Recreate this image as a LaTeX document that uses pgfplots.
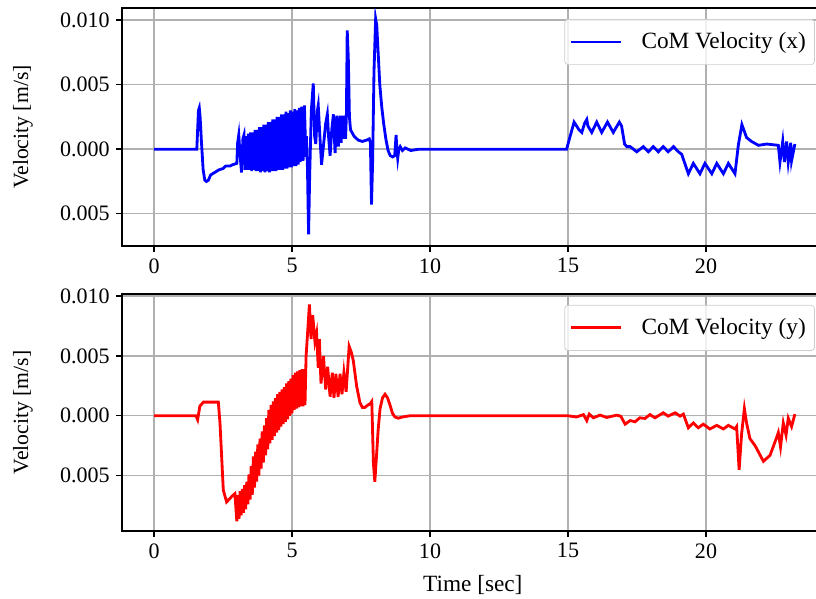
\documentclass[border=0pt]{standalone}
\usepackage{fontspec}
\setmainfont{Liberation Serif}
\usepackage{pgfplots}
\pgfplotsset{compat=1.18}
\newcommand{\ff}{\fontsize{12.5}{15}\selectfont}
\newcommand{\fy}{\fontsize{12.3}{15}\selectfont}
\newcommand{\fl}{\fontsize{13.2}{15.5}\selectfont}
\definecolor{gridgray}{HTML}{B0B0B0}
\pgfplotsset{
  myaxis/.style={
    scale only axis, width=397.8pt,
    xmin=-1.159, xmax=24.26,
    xtick={0,5,10,15,20}, xticklabels={0,5,10,15,20},
    ytick={-0.005,0,0.005,0.010}, yticklabels={0.005,0.000,0.005,0.010},
    scaled y ticks=false,
    tick align=outside, xtick pos=left, ytick pos=left,
    major tick length=3.5pt,
    tick style={black, line width=0.8pt},
    axis line style={line width=0.8pt},
    grid=major, major grid style={gridgray, line width=0.8pt},
    tick label style={font=\ff},
    every axis y label/.style={at={(axis description cs:-0.1411,0.5)}, rotate=90, anchor=center, font=\fy},
    every axis x label/.style={at={(axis description cs:0.5,-0.228)}, anchor=center, font=\fl},
    ylabel={Velocity [m/s]},
    legend style={at={(1,1)}, anchor=north east, xshift=-4.9pt, yshift=-6.2pt,
      draw=black!20, rounded corners=2pt, fill=white, fill opacity=0.8, text opacity=1,
      font=\fl, inner xsep=3pt, inner ysep=5.5pt, legend cell align=left,
      /tikz/every odd column/.append style={column sep=9pt}},
    legend image code/.code={\draw[#1] (0pt,0pt) -- (28pt,0pt);},
  }
}
\begin{document}
\begin{tikzpicture}
\begin{axis}[myaxis, at={(0,0)}, anchor=south west, height=134.9pt,
  ymin=-0.0075, ymax=0.01093]
\addplot[blue, line width=1.6pt] coordinates {
(0,0) (1.55,0) (1.58,0.0015) (1.61,0.0030) (1.64,0.0032) (1.67,0.0025) (1.72,0.0005) (1.78,-0.0016) (1.84,-0.0024) (1.90,-0.0025) (1.97,-0.0024) (2.05,-0.0020) (2.2,-0.0018) (2.35,-0.0016) (2.5,-0.0015) (2.6,-0.0013) (2.75,-0.0013) (2.85,-0.0012) (3.0,-0.0011)
(3.03,0.0005) (3.07,0.0011) (3.12,-0.0005) (3.17,-0.0018) (3.22,0.0008) (3.26,0.0011) (3.30,-0.0016)
(3.34,0.0010) (3.38,-0.0016) (3.42,0.0012) (3.46,-0.0016) (3.50,0.0013) (3.54,-0.0017) (3.58,0.0013) (3.62,-0.0016) (3.66,0.0015) (3.70,-0.0017) (3.74,0.0015) (3.78,-0.0017) (3.82,0.0017) (3.86,-0.0018) (3.90,0.0017) (3.94,-0.0017) (3.98,0.0019) (4.02,-0.0018) (4.06,0.0019) (4.10,-0.0017) (4.14,0.0021) (4.18,-0.0018) (4.22,0.0021) (4.26,-0.0017) (4.30,0.0023) (4.34,-0.0017) (4.38,0.0023) (4.42,-0.0017) (4.46,0.0025) (4.50,-0.0016) (4.54,0.0025) (4.58,-0.0016) (4.62,0.0027) (4.66,-0.0016) (4.70,0.0027) (4.74,-0.0015) (4.78,0.0029) (4.82,-0.0015) (4.86,0.0028) (4.90,-0.0014) (4.94,0.0030) (4.98,-0.0014) (5.02,0.0029) (5.06,-0.0013) (5.10,0.0031) (5.14,-0.0013) (5.18,0.0030) (5.22,-0.0012) (5.26,0.0032) (5.30,-0.0010) (5.35,0.0033) (5.40,-0.0009) (5.45,0.0034) (5.50,-0.0006)
(5.52,0.0010) (5.56,-0.0015) (5.60,-0.0066) (5.64,-0.0020) (5.70,0.0030) (5.77,0.0051) (5.82,0.0010) (5.86,0.0004) (5.92,0.0030) (5.95,0.0034) (6.01,0.0010) (6.07,-0.0012) (6.15,0.0005) (6.22,0.0020) (6.28,0.0027) (6.33,0.0008) (6.38,-0.0005) (6.44,0.0015) (6.50,0.0027) (6.56,-0.0003) (6.62,0.0026) (6.68,0.0002) (6.74,0.0026) (6.78,0.0005) (6.82,0.0026) (6.86,0.0008) (6.90,0.0026) (6.94,0.0008) (6.97,0.0026)
(7.00,0.0092) (7.04,0.0070) (7.08,0.0025) (7.12,0.0015) (7.25,0.0010) (7.4,0.0007) (7.55,0.0006) (7.7,0.0007) (7.8,0.0008) (7.84,0.0005) (7.88,-0.0043) (7.92,-0.0010) (7.97,0.0060) (8.03,0.0101) (8.07,0.0096) (8.12,0.0075) (8.18,0.0050) (8.25,0.0033) (8.32,0.0020) (8.40,0.0008) (8.48,-0.0001) (8.56,-0.0005) (8.65,-0.0006) (8.72,-0.0005) (8.74,0.0001) (8.77,0.0011) (8.80,0.0000) (8.83,-0.0007) (8.87,0.0000) (8.92,0.0002) (9.0,-0.0001) (9.1,0.0001) (9.3,-0.0001) (9.6,0) (10,0) (14.95,0)
(15.05,0.0008) (15.22,0.0021) (15.4,0.0015) (15.5,0.0013) (15.6,0.0020) (15.68,0.0023) (15.72,0.0018) (15.86,0.0013) (16.04,0.0021) (16.22,0.0013) (16.43,0.0021) (16.64,0.0013) (16.86,0.0021) (16.94,0.0018) (17.05,0.0004) (17.13,0.0002)
(17.25,0.0002) (17.49,-0.0002) (17.73,0.0002) (17.91,-0.0002) (18.09,0.0002) (18.27,-0.0002) (18.45,0.0002) (18.63,-0.0002) (18.82,0.0002) (19.0,-0.0002) (19.12,-0.0004)
(19.36,-0.0019) (19.54,-0.0011) (19.78,-0.0019) (19.96,-0.0011) (20.21,-0.0019) (20.39,-0.0011) (20.63,-0.0019) (20.81,-0.0011) (21.05,-0.0019)
(21.17,0.0003) (21.30,0.0019) (21.47,0.0009) (21.65,0.0006) (21.9,0.0003) (22.2,0.0004) (22.62,0.0003) (22.68,-0.0010) (22.78,0.0006) (22.84,-0.0010) (22.92,0.0006) (22.98,-0.0010) (23.07,0.0005) (23.10,-0.0009) (23.22,0.0004)
};
\addlegendentry{CoM Velocity (x)}
\end{axis}
\begin{axis}[myaxis, at={(0,-161.6pt)}, anchor=south west, height=134.4pt,
  ymin=-0.00962, ymax=0.01017, xlabel={Time [sec]}]
\addplot[red, line width=1.6pt] coordinates {
(0,0) (1.52,0) (1.58,-0.00033) (1.66,0.0008) (1.79,0.00114) (2.33,0.00114) (2.39,-0.0006) (2.51,-0.0062) (2.63,-0.0072) (2.81,-0.00675) (2.93,-0.0065) (3.0,-0.0088)
(3.04,-0.0066) (3.08,-0.0086) (3.12,-0.0063) (3.16,-0.0083) (3.20,-0.0061) (3.24,-0.0081) (3.28,-0.0058) (3.32,-0.0078) (3.36,-0.0055) (3.40,-0.0074) (3.44,-0.0049) (3.48,-0.0070) (3.52,-0.0042) (3.56,-0.0066) (3.60,-0.0034) (3.64,-0.0060) (3.68,-0.0030) (3.72,-0.0055) (3.76,-0.0024) (3.80,-0.0050) (3.84,-0.0019) (3.88,-0.0044) (3.92,-0.0013) (3.96,-0.0039) (4.00,-0.0008) (4.04,-0.0033) (4.08,-0.0002) (4.12,-0.0028) (4.16,0.0005) (4.20,-0.0023) (4.24,0.0009) (4.28,-0.0020) (4.32,0.0012) (4.36,-0.0017) (4.40,0.0015) (4.44,-0.0014) (4.48,0.0018) (4.52,-0.0012) (4.56,0.0020) (4.60,-0.0009) (4.64,0.0022) (4.68,-0.0007) (4.72,0.0024) (4.76,-0.0005) (4.80,0.0027) (4.84,-0.0003) (4.88,0.0029) (4.92,0.0000) (4.96,0.0031) (5.00,0.0002) (5.04,0.0034) (5.08,0.0005) (5.12,0.0036) (5.16,0.0006) (5.20,0.0037) (5.24,0.0007) (5.28,0.0038) (5.32,0.0008) (5.36,0.0039) (5.40,0.0008) (5.44,0.0039) (5.47,0.0009)
(5.51,0.0050) (5.55,0.0064) (5.63,0.0093) (5.69,0.0064) (5.75,0.0084) (5.83,0.0062) (5.89,0.0069) (5.95,0.0040) (5.99,0.0064) (6.05,0.0027) (6.14,0.0050) (6.22,0.0022) (6.29,0.0041) (6.38,0.0016) (6.46,0.0036) (6.52,0.0015) (6.59,0.0035) (6.67,0.0016) (6.74,0.0035) (6.81,0.0018) (6.88,0.0036) (6.96,0.0020)
(7.07,0.0058) (7.15,0.0053) (7.22,0.0046) (7.34,0.0025) (7.46,0.0011) (7.55,0.0007) (7.64,0.0007) (7.75,0.0009) (7.83,0.0010) (7.89,0.0012) (7.95,-0.0040) (8.0,-0.0055) (8.06,-0.0034) (8.12,-0.0012) (8.19,0.0006) (8.28,0.0015) (8.37,0.0018) (8.46,0.0015) (8.55,0.0009) (8.64,0.0002) (8.73,-0.0001) (8.85,-0.0002) (9.0,-0.0001) (9.27,0) (10,0) (15.0,0)
(15.31,-0.0001) (15.56,0.0001) (15.68,-0.0004) (15.77,0.00014) (15.92,-0.00017) (16.16,0.00006) (16.4,-0.00014) (16.76,0.00005) (16.91,-0.00003) (17.07,-0.0007) (17.25,-0.0004) (17.43,-0.0005) (17.6,-0.00017) (17.79,-0.00022) (17.97,0.0001) (18.15,-0.00017) (18.45,0.00025) (18.63,-0.00003) (18.88,0.00025) (19.06,-0.00003) (19.18,0.00014)
(19.36,-0.0010) (19.54,-0.0006) (19.72,-0.0010) (19.9,-0.0007) (20.14,-0.0011) (20.39,-0.0008) (20.63,-0.0011) (20.81,-0.0008) (21.05,-0.0011) (21.11,-0.0009)
(21.2,-0.0045) (21.29,-0.0015) (21.39,0.0006) (21.47,-0.0006) (21.59,-0.0019) (21.78,-0.0025) (22.08,-0.0038) (22.32,-0.0033) (22.56,-0.0018) (22.62,-0.0014) (22.7,-0.0026) (22.8,-0.0006) (22.9,-0.0016) (22.98,-0.0002) (23.1,-0.0009) (23.22,0.00014)
};
\addlegendentry{CoM Velocity (y)}
\end{axis}
\pgfresetboundingbox
\path[use as bounding box] (-69.2pt,-199.6pt) rectangle (393.5pt,139.5pt);
\end{tikzpicture}
\end{document}
